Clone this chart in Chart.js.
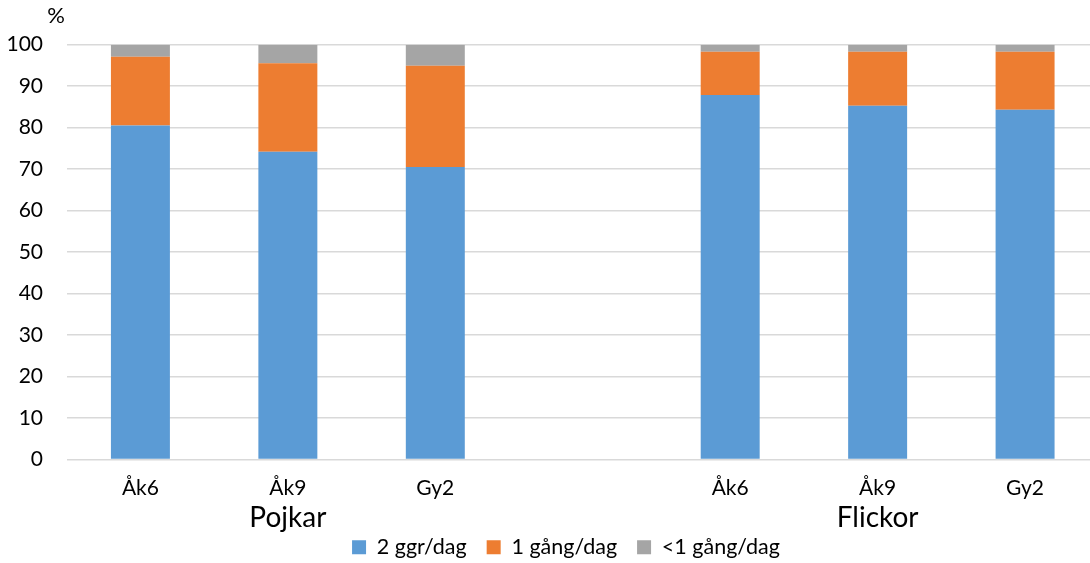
<!DOCTYPE html>
<html><head><meta charset="utf-8">
<script src="https://cdn.jsdelivr.net/npm/chart.js@4/dist/chart.umd.min.js"></script>
<style>html,body{margin:0;padding:0;overflow:hidden;background:#fff;width:1090px;height:563px}
#c{position:absolute;left:0;top:0}</style></head>
<body><canvas id="c" width="1100" height="563"></canvas>
<script>
const categories = ['Åk6', 'Åk9', 'Gy2', '', 'Åk6', 'Åk9', 'Gy2'];
const groupLabels = ['Pojkar', 'Flickor'];
const groupCenterIndex = [1, 5];
const seriesNames = ['2 ggr/dag', '1 gång/dag', '<1 gång/dag'];
const twiceDaily = [80.5, 74.2, 70.5, null, 87.9, 85.3, 84.3];
const onceDaily = [16.6, 21.3, 24.4, null, 10.4, 13.0, 14.0];
const lessThanOnce = [2.9, 4.5, 5.1, null, 1.7, 1.7, 1.7];
const yMin = 0, yMax = 100, yStep = 10;
const yUnit = '%';

const colors = ['#5B9BD5', '#ED7D31', '#A5A5A5'];
const FONT = 'Lato';

const extras = {
  id: 'extras',
  afterLayout(chart) {
    // centre the legend a little right of the canvas centre, as in the reference
    const lg = chart.legend;
    if (lg) { lg.left += 16.6; lg.right += 16.6; }
  },
  afterDraw(chart) {
    const ctx = chart.ctx;
    const x = chart.scales.x;
    ctx.save();
    ctx.fillStyle = '#000';
    ctx.textAlign = 'center';
    ctx.textBaseline = 'middle';
    ctx.font = '28px ' + FONT;
    groupLabels.forEach((g, i) => {
      ctx.fillText(g, x.getPixelForValue(groupCenterIndex[i]), 518);
    });
    ctx.font = '22px ' + FONT;
    ctx.fillText(yUnit, 56, 16);
    ctx.restore();
  }
};

new Chart(document.getElementById('c'), {
  type: 'bar',
  data: {
    labels: categories,
    datasets: [
      { label: seriesNames[0], data: twiceDaily, backgroundColor: colors[0] },
      { label: seriesNames[1], data: onceDaily, backgroundColor: colors[1] },
      { label: seriesNames[2], data: lessThanOnce, backgroundColor: colors[2] }
    ]
  },
  options: {
    responsive: false,
    animation: false,
    layout: { padding: { left: 0, right: 1.2, top: 44.7, bottom: -5 } },
    datasets: { bar: { categoryPercentage: 1, barPercentage: 0.4, borderWidth: 0 } },
    plugins: {
      tooltip: { enabled: false },
      legend: {
        position: 'bottom',
        labels: {
          boxWidth: 14, boxHeight: 14, padding: 20, color: '#000',
          font: { family: FONT, size: 21.5 }
        }
      }
    },
    scales: {
      x: {
        stacked: true,
        grid: { display: false, drawTicks: false },
        border: { display: false },
        ticks: { color: '#000', font: { family: FONT, size: 21 }, padding: 16, autoSkip: false, maxRotation: 0 },
        afterFit(s) { s.height = 57; }
      },
      y: {
        stacked: true,
        min: yMin, max: yMax,
        grid: { color: '#D9D9D9', lineWidth: 1.5, drawTicks: false },
        border: { display: false },
        ticks: { stepSize: yStep, color: '#000', font: { family: FONT, size: 21 }, padding: 23.7 },
        afterFit(s) { s.width = 66.7; }
      }
    }
  },
  plugins: [extras]
});
</script>
</body></html>
